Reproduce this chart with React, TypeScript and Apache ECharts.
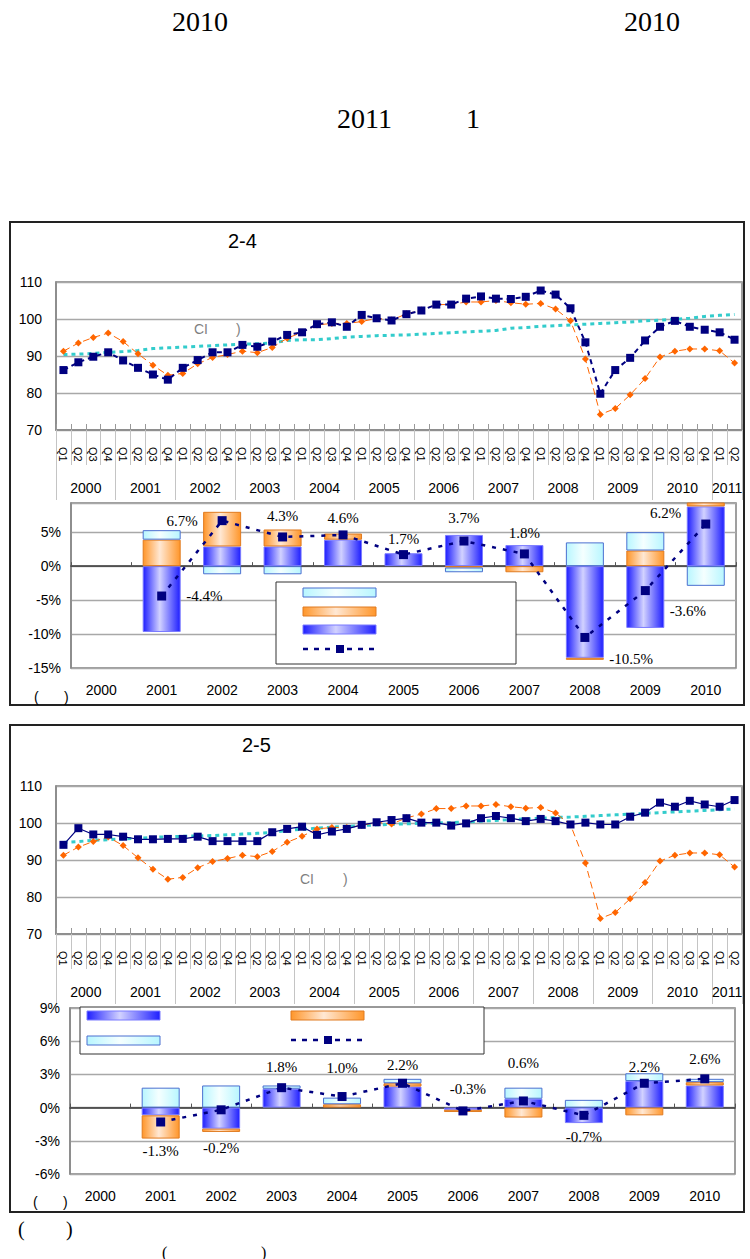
import React, { useEffect, useRef } from "react";
import * as echarts from "echarts";

// ---------- data ----------
const quarterLabels = [
  "Q1", "Q2", "Q3", "Q4", "Q1", "Q2", "Q3", "Q4", "Q1", "Q2", "Q3", "Q4",
  "Q1", "Q2", "Q3", "Q4", "Q1", "Q2", "Q3", "Q4", "Q1", "Q2", "Q3", "Q4",
  "Q1", "Q2", "Q3", "Q4", "Q1", "Q2", "Q3", "Q4", "Q1", "Q2", "Q3", "Q4",
  "Q1", "Q2", "Q3", "Q4", "Q1", "Q2", "Q3", "Q4", "Q1", "Q2",
];
const lineYears = ["2000", "2001", "2002", "2003", "2004", "2005", "2006", "2007", "2008", "2009", "2010", "2011"];
const barYears = ["2000", "2001", "2002", "2003", "2004", "2005", "2006", "2007", "2008", "2009", "2010"];

// leading index (orange diamonds), same in both panels
const leadingIndex = [
  91.3, 93.5, 95.0, 96.2, 93.9, 90.6, 87.5, 84.8, 85.3, 87.9, 89.6, 90.4,
  91.3, 90.9, 92.3, 94.8, 96.4, 98.4, 98.8, 98.8, 99.3, 100.2, 99.7, 101.4,
  102.4, 103.9, 103.9, 104.6, 104.6, 105.0, 104.4, 104.0, 104.2, 102.7, 99.5, 89.2,
  74.2, 75.8, 79.5, 83.9, 89.7, 91.3, 91.9, 91.9, 91.4, 88.1,
];
// chart 2-4
const coincident24 = [
  86.2, 88.3, 89.8, 91.0, 88.8, 86.8, 85.0, 83.6, 86.8, 88.9, 91.0, 91.0,
  93.0, 92.5, 93.9, 95.7, 96.4, 98.6, 99.1, 97.9, 101.1, 100.2, 99.6, 101.3,
  102.3, 103.9, 103.9, 105.5, 106.1, 105.5, 105.4, 106.0, 107.7, 106.6, 102.9, 93.7,
  79.8, 86.2, 89.5, 94.2, 97.9, 99.5, 97.9, 97.1, 96.4, 94.4,
];
const trend24 = [
  90.4, 90.5, 90.7, 91.0, 91.2, 91.5, 92.0, 92.2, 92.4, 92.6, 92.8, 93.0,
  93.2, 93.3, 93.5, 94.2, 94.4, 94.4, 94.7, 95.1, 95.3, 95.5, 95.6, 95.7,
  95.9, 96.1, 96.3, 96.5, 96.7, 96.9, 97.5, 97.7, 98.0, 98.2, 98.4, 98.6,
  98.8, 99.0, 99.2, 99.5, 99.7, 99.9, 100.2, 100.7, 101.0, 101.2,
];
const blue24 = [null, -9.7, 2.9, 2.9, 3.9, 1.9, 4.6, 3.1, -13.5, -9.1, 8.8];
const orange24 = [null, 3.9, 5.1, 2.5, 0.9, null, -0.2, -0.9, -0.3, 2.3, 0.6];
const cyan24 = [null, 1.4, -1.2, -1.2, null, null, -0.7, null, 3.5, 2.7, -2.9];
const total24 = [null, -4.4, 6.7, 4.3, 4.6, 1.7, 3.7, 1.8, -10.5, -3.6, 6.2];

// chart 2-5
const coincident25 = [
  94.1, 98.6, 96.9, 96.9, 96.3, 95.6, 95.6, 95.7, 95.7, 96.3, 95.1, 95.1,
  95.1, 95.1, 97.5, 98.4, 99.0, 96.8, 97.7, 98.4, 99.5, 100.2, 100.8, 101.3,
  100.1, 100.1, 99.3, 99.9, 101.3, 101.9, 101.3, 100.5, 101.1, 100.5, 99.6, 100.1,
  99.6, 99.6, 101.7, 102.8, 105.5, 104.4, 106.0, 105.0, 104.4, 106.2,
];
const trend25 = [
  94.7, 95.0, 95.3, 95.5, 95.7, 95.9, 96.1, 96.3, 96.4, 96.5, 96.6, 96.8,
  97.0, 97.2, 97.4, 98.0, 98.3, 98.6, 98.9, 99.1, 99.3, 99.5, 99.6, 99.8,
  99.9, 100.0, 100.1, 100.3, 100.5, 100.7, 100.9, 101.1, 101.3, 101.5, 101.6, 101.8,
  102.0, 102.2, 102.4, 102.6, 102.8, 103.0, 103.2, 103.4, 103.6, 103.8,
];
const blue25 = [null, -0.7, -1.9, 1.7, null, 1.9, -0.2, 0.8, -1.4, 2.4, 2.0];
const orange25 = [null, -2.1, -0.3, null, 0.3, 0.3, -0.2, -0.9, null, -0.7, 0.3];
const cyan25 = [null, 1.8, 2.0, 0.3, 0.6, 0.4, null, 1.0, 0.7, 0.7, 0.3];
const total25 = [null, -1.3, -0.2, 1.8, 1.0, 2.2, -0.3, 0.6, -0.7, 2.2, 2.6];

// ---------- styles ----------
const SANS = "'Liberation Sans', Arial, sans-serif";
const SERIF = "'Liberation Serif', 'Times New Roman', serif";

const labelPlace24: any[] = [
  null,
  { position: "right", distance: 20 },
  { position: "left", distance: 20 },
  { position: "top", distance: 9 },
  { position: "top", distance: 5 },
  { position: "top", distance: 4 },
  { position: "top", distance: 11 },
  { position: "top", distance: 9 },
  { position: "right", distance: 20, offset: [0, 22] },
  { position: "right", distance: 20, offset: [0, 20] },
  { position: "left", distance: 20, offset: [0, -11] },
];
const labelPlace25: any[] = [
  null,
  { position: "bottom", distance: 17 },
  { position: "bottom", distance: 26 },
  { position: "top", distance: 9 },
  { position: "top", distance: 17 },
  { position: "top", distance: 6 },
  { position: "top", distance: 10, offset: [5, 0] },
  { position: "top", distance: 26 },
  { position: "bottom", distance: 10 },
  { position: "top", distance: 4 },
  { position: "top", distance: 8 },
];

const grad = (edge: string, mid: string) =>
  new echarts.graphic.LinearGradient(0, 0, 1, 0, [
    { offset: 0, color: edge },
    { offset: 0.45, color: mid },
    { offset: 1, color: edge },
  ]);
const blueFill = () => grad("#1f1fff", "#d2d2ff");
const orangeFill = () => grad("#ff962a", "#ffe8d4");
const cyanFill = () => grad("#b8f6ff", "#f5ffff");

function lineXAxes(gridIndex: number) {
  return [
    {
      type: "category", gridIndex, position: "bottom", data: quarterLabels, boundaryGap: true,
      axisLine: { show: true, onZero: false, lineStyle: { color: "#888", width: 1.5 } },
      axisTick: { show: true, interval: 0, length: 35, lineStyle: { color: "#c4c4c4" } },
      axisLabel: { interval: 0, rotate: -90, margin: 17, fontSize: 11, color: "#000", fontFamily: SANS },
      splitLine: { show: false },
    },
    {
      type: "category", gridIndex, position: "bottom", data: quarterLabels, boundaryGap: true,
      axisLine: { show: false, onZero: false },
      axisTick: { show: true, interval: (i: number) => i % 4 === 0, length: 70, lineStyle: { color: "#c4c4c4" } },
      axisLabel: {
        interval: (i: number) => i === 44 || (i % 4 === 1 && i < 44),
        formatter: (_v: string, i: number) => lineYears[Math.floor(i / 4)],
        margin: 51, fontSize: 14, color: "#000", fontFamily: SANS, padding: [0, 0, 0, 15],
      },
      splitLine: { show: false },
    },
    {
      type: "category", gridIndex, position: "bottom", data: quarterLabels, boundaryGap: true,
      axisLine: { show: false, onZero: false },
      axisTick: { show: true, inside: true, interval: 0, length: 6, lineStyle: { color: "#999" } },
      axisLabel: { show: false },
      splitLine: { show: false },
    },
  ];
}

function barXAxes(gridIndex: number) {
  return [
    {
      type: "category", gridIndex, position: "bottom", data: barYears,
      axisLine: { show: true, onZero: true, lineStyle: { color: "#333", width: 1.5 } },
      axisTick: { show: true, inside: true, length: 4, lineStyle: { color: "#555" } },
      axisLabel: { show: false },
      splitLine: { show: false },
    },
    {
      type: "category", gridIndex, position: "bottom", data: barYears,
      axisLine: { show: false, onZero: false },
      axisTick: { show: false },
      axisLabel: { margin: 15, fontSize: 14, color: "#000", fontFamily: SANS },
      splitLine: { show: false },
    },
  ];
}

function lineYAxis(gridIndex: number) {
  return {
    type: "value", gridIndex, min: 70, max: 110, interval: 10,
    axisLine: { show: true, lineStyle: { color: "#888", width: 1.5 } },
    axisTick: { show: false },
    axisLabel: { fontSize: 14, color: "#000", margin: 14, fontFamily: SANS },
    splitLine: { lineStyle: { color: "#a8a8a8", width: 1.3 } },
  };
}

function barYAxis(gridIndex: number, min: number, max: number, step: number) {
  return {
    type: "value", gridIndex, min, max, interval: step,
    axisLine: { show: true, lineStyle: { color: "#888", width: 1.5 } },
    axisTick: { show: false },
    axisLabel: {
      fontSize: 14, color: "#000", margin: 10, fontFamily: SANS,
      formatter: (v: number) => (Math.abs(v % step) < 1e-6 ? `${v}%` : ""),
    },
    splitLine: { lineStyle: { color: "#a8a8a8", width: 1.3 } },
  };
}

function indexSeries(xi: number, yi: number, coincident: number[], trend: number[], dashed: boolean) {
  return [
    {
      type: "line", xAxisIndex: xi, yAxisIndex: yi, data: trend, symbol: "none", z: 2,
      lineStyle: { color: "#33cccc", width: 3, type: [4, 4] },
    },
    {
      type: "line", xAxisIndex: xi, yAxisIndex: yi, data: leadingIndex, symbol: "diamond", symbolSize: 7, z: 3,
      itemStyle: { color: "#ff6600" },
      lineStyle: { color: "#ff6600", width: 1, type: [7, 4] },
    },
    {
      type: "line", xAxisIndex: xi, yAxisIndex: yi, data: coincident, symbol: "rect", symbolSize: 8, z: 4,
      itemStyle: { color: "#000080" },
      lineStyle: { color: "#000080", width: dashed ? 2 : 1.2, type: dashed ? [5, 4] : "solid" },
    },
  ];
}

function contribSeries(xi: number, yi: number, stack: string, blue: any[], orange: any[], cyan: any[], total: any[], place: any[]) {
  const bar = (data: any[], fill: any, border: string) => ({
    type: "bar", xAxisIndex: xi, yAxisIndex: yi, stack, data, barWidth: 38, z: 2,
    itemStyle: { color: fill, borderColor: border, borderWidth: 1 },
  });
  return [
    bar(blue, blueFill(), "#7b7bff"),
    bar(orange, orangeFill(), "#e07b20"),
    bar(cyan, cyanFill(), "#4a6fd0"),
    {
      type: "line", xAxisIndex: xi, yAxisIndex: yi, z: 5,
      data: total.map((v, i) => (v == null ? null : { value: v, label: { show: true, ...place[i] } })),
      symbol: "rect", symbolSize: 9,
      itemStyle: { color: "#000080" },
      lineStyle: { color: "#000080", width: 2.5, type: [4, 7] },
      label: {
        fontFamily: SERIF, fontSize: 15, color: "#000",
        formatter: (p: any) => `${Number(p.value).toFixed(1)}%`,
      },
    },
  ];
}

// ---------- graphic helpers ----------
const txt = (text: string, x: number, y: number, size: number, family: string, color = "#000") => ({
  type: "text", x, y, z: 60,
  style: { text, fontSize: size, fontFamily: family, fill: color, textAlign: "left", textVerticalAlign: "middle", verticalAlign: "middle" },
});
const box = (x: number, y: number, w: number, h: number, stroke: string, lw: number, fill = "none", z = 40) => ({
  type: "rect", z, shape: { x, y, width: w, height: h }, style: { fill, stroke, lineWidth: lw },
});
const swatch = (x: number, y: number, fill: any, stroke: string) => ({
  type: "rect", z: 61, shape: { x, y, width: 73, height: 9 }, style: { fill, stroke, lineWidth: 1 },
});
const lineSwatch = (x: number, y: number) => [
  { type: "line", z: 61, shape: { x1: x, y1: y, x2: x + 73, y2: y }, style: { stroke: "#000080", lineWidth: 2.5, lineDash: [5, 6] } },
  { type: "rect", z: 62, shape: { x: x + 33, y: y - 4, width: 8, height: 8 }, style: { fill: "#000080" } },
];

function buildOption(): any {
  return {
    animation: false,
    backgroundColor: "#fff",
    textStyle: { fontFamily: SANS },
    grid: [
      { left: 56, top: 282, width: 686, height: 148, show: true, borderColor: "#808080", borderWidth: 1.5, backgroundColor: "#fff" },
      { left: 71, top: 503, width: 665, height: 165, show: true, borderColor: "#808080", borderWidth: 1.5, backgroundColor: "#fff" },
      { left: 56, top: 786, width: 686, height: 148, show: true, borderColor: "#808080", borderWidth: 1.5, backgroundColor: "#fff" },
      { left: 70, top: 1008, width: 665, height: 166, show: true, borderColor: "#808080", borderWidth: 1.5, backgroundColor: "#fff" },
    ],
    xAxis: [...lineXAxes(0), ...barXAxes(1), ...lineXAxes(2), ...barXAxes(3)],
    yAxis: [lineYAxis(0), barYAxis(1, -15, 9.3, 5), lineYAxis(2), barYAxis(3, -6, 9, 3)],
    series: [
      ...indexSeries(0, 0, coincident24, trend24, true),
      ...contribSeries(3, 1, "c24", blue24, orange24, cyan24, total24, labelPlace24),
      ...indexSeries(5, 2, coincident25, trend25, false),
      ...contribSeries(8, 3, "c25", blue25, orange25, cyan25, total25, labelPlace25),
    ],
    graphic: {
      elements: [
        // page text
        txt("2010", 172, 21, 28, SERIF),
        txt("2010", 624, 21, 28, SERIF),
        txt("2011", 337, 118, 28, SERIF),
        txt("1", 466, 118, 28, SERIF),
        // panel frames
        box(10, 222, 734, 483, "#222", 2),
        box(10, 725, 734, 487, "#222", 2),
        // titles
        txt("2-4", 228, 241, 20, SANS),
        txt("2-5", 242, 745, 20, SANS),
        // CI notes
        txt("CI", 194, 329, 14, SANS, "#7f7f7f"),
        txt(")", 236, 329, 14, SANS, "#7f7f7f"),
        txt("CI", 300, 879, 14, SANS, "#7f7f7f"),
        txt(")", 343, 879, 14, SANS, "#7f7f7f"),
        // unit brackets
        txt("(", 34, 697, 14, SANS),
        txt(")", 64, 697, 14, SANS),
        txt("(", 33, 1202, 14, SANS),
        txt(")", 63, 1202, 14, SANS),
        // notes below
        txt("(", 18, 1229, 20, SERIF),
        txt(")", 66, 1229, 20, SERIF),
        txt("(", 162, 1252, 16, SERIF),
        txt(")", 261, 1252, 16, SERIF),
        // legend 2-4
        box(276, 582, 240, 82, "#333", 1, "#fff", 58),
        swatch(303, 588, cyanFill(), "#4a6fd0"),
        swatch(303, 607, orangeFill(), "#e07b20"),
        swatch(303, 625, blueFill(), "#7b7bff"),
        ...lineSwatch(303, 649),
        // legend 2-5
        box(80, 1007, 404, 47, "#333", 1, "#fff", 58),
        swatch(87, 1011, blueFill(), "#7b7bff"),
        swatch(291, 1011, orangeFill(), "#e07b20"),
        swatch(87, 1036, cyanFill(), "#4a6fd0"),
        ...lineSwatch(291, 1040),
      ],
    },
  };
}

export default function App() {
  const ref = useRef<HTMLDivElement>(null);
  useEffect(() => {
    if (!ref.current) return;
    const chart = echarts.init(ref.current, undefined, { renderer: "svg" });
    chart.setOption(buildOption());
    return () => chart.dispose();
  }, []);
  return (
    <div
      ref={ref}
      style={{ position: "absolute", left: 0, top: 0, width: 750, height: 1259, background: "#fff" }}
    />
  );
}
